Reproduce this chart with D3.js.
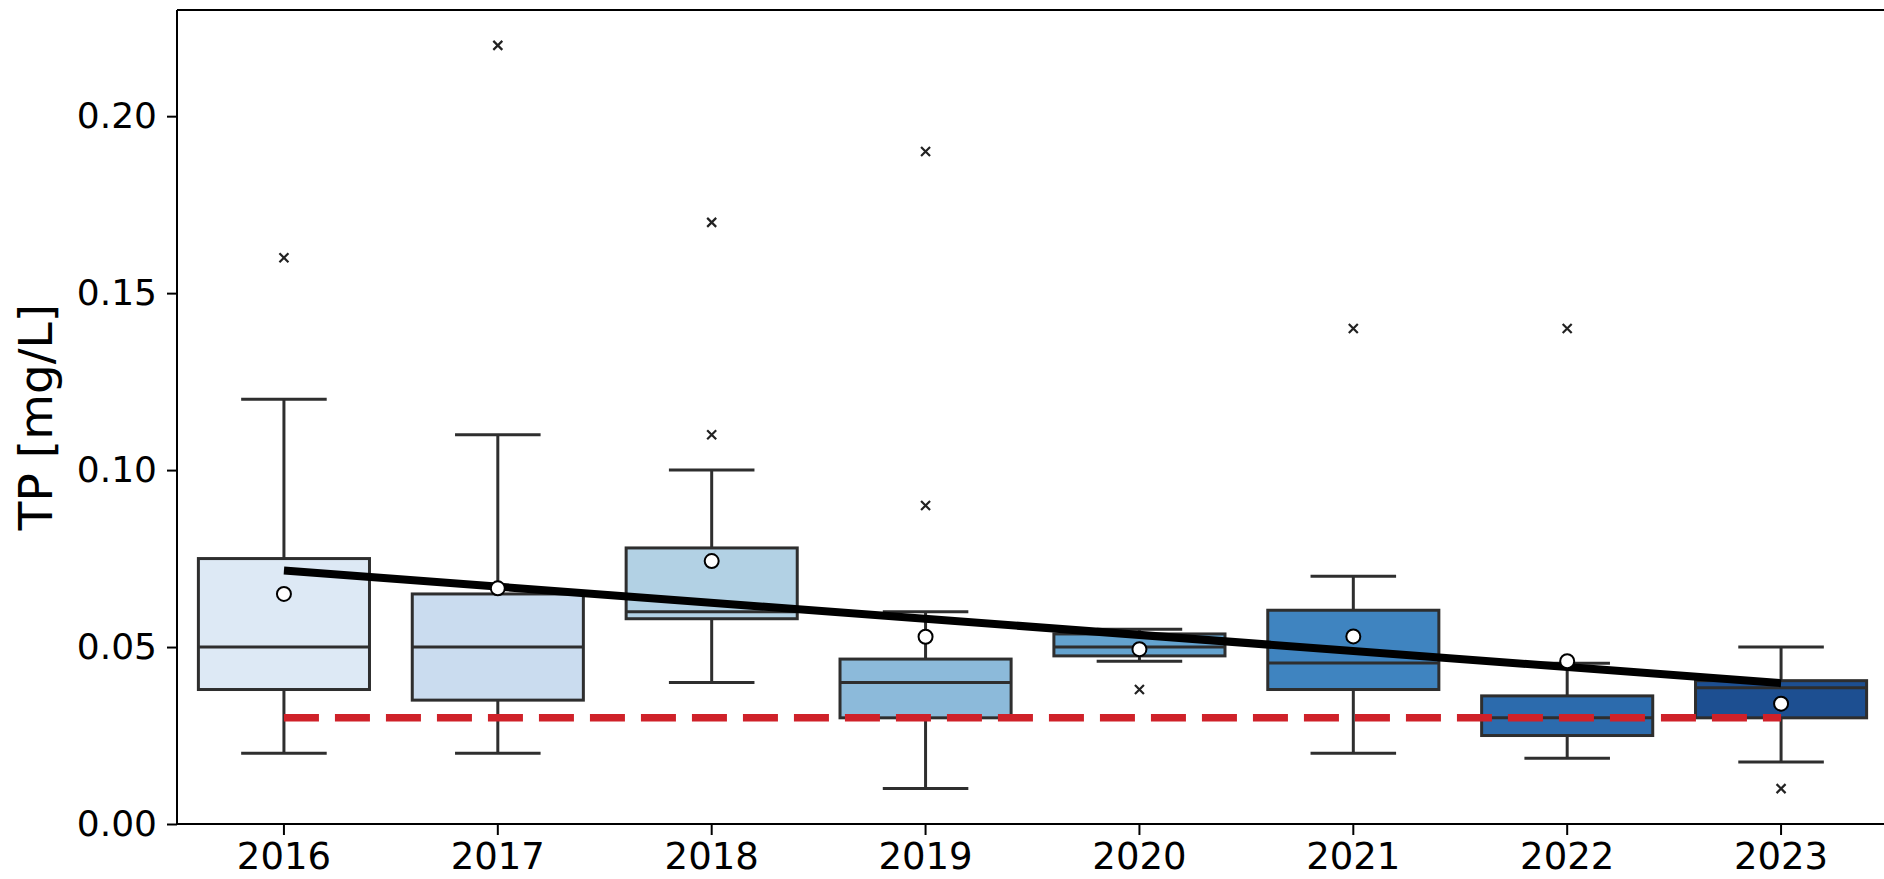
<!DOCTYPE html>
<html>
<head>
<meta charset="utf-8">
<script src="https://cdn.jsdelivr.net/npm/d3@7"></script>
<style>
  body { margin: 0; background: #fff; overflow: hidden; }
  text { font-family: "DejaVu Sans", sans-serif; fill: #000; }
</style>
</head>
<body>
<div id="chart"></div>
<script>
// chart values
var years   = ['2016', '2017', '2018', '2019', '2020', '2021', '2022', '2023'];
var q1      = [0.038, 0.035, 0.058, 0.030, 0.0475, 0.038, 0.025, 0.030];
var median  = [0.050, 0.050, 0.060, 0.040, 0.050, 0.0455, 0.030, 0.0385];
var q3      = [0.075, 0.065, 0.078, 0.0466, 0.0537, 0.0604, 0.0362, 0.0405];
var whiskLo = [0.020, 0.020, 0.040, 0.010, 0.046, 0.020, 0.0186, 0.0175];
var whiskHi = [0.120, 0.110, 0.100, 0.060, 0.055, 0.070, 0.0454, 0.050];
var means   = [0.065, 0.0666, 0.0743, 0.0529, 0.0494, 0.053, 0.046, 0.034];
var outliers = [[0.16], [0.22], [0.11, 0.17], [0.09, 0.19], [0.038], [0.14], [0.14], [0.01]];
var boxColors = ['#dde9f5', '#cadcef', '#b2d1e4', '#8cbada', '#64a3cf', '#3f84c0', '#2c6bad', '#1d4f91'];
var trendEnds = [0.0716, 0.0398];   // fitted trend at first and last year
var limitValue = 0.03;
var yTicks = [0.00, 0.05, 0.10, 0.15, 0.20];

var margin = {top: 10, right: 0, bottom: 55, left: 177},
    width = 1711,
    height = 879 - margin.top - margin.bottom;

var x = d3.scaleBand()
      .domain(years)
      .range([0, width])
      .padding(0);

var y = d3.scaleLinear()
      .domain([0, 0.23])
      .range([height, 0]);

function cx(yr) {
    return x(yr) + x.bandwidth() / 2;
}

var svg = d3.select("#chart").append("svg")
    .attr("width", 1884)
    .attr("height", 879)
  .append("g")
    .attr("transform", "translate(" + margin.left + "," + margin.top + ")");

var boxW = x.bandwidth() * 0.8;
var edge = '#2e2e2e';
var lw = 3;

var boxes = svg.selectAll(".box")
    .data(years)
    .enter().append("g")
      .attr("class", "box");

// whiskers
boxes.append("line")
    .attr("x1", function(d) { return cx(d); })
    .attr("x2", function(d) { return cx(d); })
    .attr("y1", function(d, i) { return y(whiskHi[i]); })
    .attr("y2", function(d, i) { return y(q3[i]); })
    .attr("stroke", edge).attr("stroke-width", lw);
boxes.append("line")
    .attr("x1", function(d) { return cx(d); })
    .attr("x2", function(d) { return cx(d); })
    .attr("y1", function(d, i) { return y(whiskLo[i]); })
    .attr("y2", function(d, i) { return y(q1[i]); })
    .attr("stroke", edge).attr("stroke-width", lw);
[whiskHi, whiskLo].forEach(function(arr) {
  boxes.append("line")
      .attr("x1", function(d) { return cx(d) - boxW / 4; })
      .attr("x2", function(d) { return cx(d) + boxW / 4; })
      .attr("y1", function(d, i) { return y(arr[i]); })
      .attr("y2", function(d, i) { return y(arr[i]); })
      .attr("stroke", edge).attr("stroke-width", lw);
});

boxes.append("rect")
    .attr("x", function(d) { return cx(d) - boxW / 2; })
    .attr("width", boxW)
    .attr("y", function(d, i) { return y(q3[i]); })
    .attr("height", function(d, i) { return y(q1[i]) - y(q3[i]); })
    .style("fill", function(d, i) { return boxColors[i]; })
    .attr("stroke", edge).attr("stroke-width", lw);

boxes.append("line")
    .attr("x1", function(d) { return cx(d) - boxW / 2; })
    .attr("x2", function(d) { return cx(d) + boxW / 2; })
    .attr("y1", function(d, i) { return y(median[i]); })
    .attr("y2", function(d, i) { return y(median[i]); })
    .attr("stroke", edge).attr("stroke-width", lw);

// outliers as small x marks
var outPts = [];
years.forEach(function(yr, i) {
  outliers[i].forEach(function(v) { outPts.push({year: yr, value: v}); });
});
svg.selectAll(".flier")
    .data(outPts)
    .enter().append("path")
      .attr("class", "flier")
      .attr("d", function(d) {
        var px = cx(d.year), py = y(d.value), s = 4.5;
        return "M" + (px - s) + "," + (py - s) + "L" + (px + s) + "," + (py + s) +
               "M" + (px - s) + "," + (py + s) + "L" + (px + s) + "," + (py - s);
      })
      .attr("stroke", "#222").attr("stroke-width", 2.2);

// red limit line
svg.append("line")
    .attr("x1", cx(years[0]))
    .attr("x2", cx(years[years.length - 1]))
    .attr("y1", y(limitValue))
    .attr("y2", y(limitValue))
    .attr("stroke", "#cf2129")
    .attr("stroke-width", 7.5)
    .attr("stroke-dasharray", "35,16");

// trend line
svg.append("line")
    .attr("x1", cx(years[0]))
    .attr("x2", cx(years[years.length - 1]))
    .attr("y1", y(trendEnds[0]))
    .attr("y2", y(trendEnds[1]))
    .attr("stroke", "#000")
    .attr("stroke-width", 8);

// mean markers
svg.selectAll(".mean")
    .data(years)
    .enter().append("circle")
      .attr("class", "mean")
      .attr("cx", function(d) { return cx(d); })
      .attr("cy", function(d, i) { return y(means[i]); })
      .attr("r", 7)
      .style("fill", "#fff")
      .attr("stroke", "#000").attr("stroke-width", 2);

// axes
var yAxis = svg.append("g")
    .call(d3.axisLeft(y).tickValues(yTicks).tickFormat(d3.format(".2f")).tickSize(10).tickPadding(10));
yAxis.selectAll("text").style("font-size", "36px");

var xAxis = svg.append("g")
    .attr("transform", "translate(0," + height + ")")
    .call(d3.axisBottom(x).tickSize(11).tickPadding(8));
xAxis.selectAll("text").style("font-size", "37px");

[yAxis, xAxis].forEach(function(g) {
  g.select(".domain").remove();
  g.selectAll("line").attr("stroke", "#000").attr("stroke-width", 2);
});

// spines
svg.append("line").attr("x1", 0).attr("x2", 0).attr("y1", 0).attr("y2", height)
    .attr("stroke", "#000").attr("stroke-width", 2);
svg.append("line").attr("x1", 0).attr("x2", width).attr("y1", 0).attr("y2", 0)
    .attr("stroke", "#000").attr("stroke-width", 2);
svg.append("line").attr("x1", 0).attr("x2", width).attr("y1", height).attr("y2", height)
    .attr("stroke", "#000").attr("stroke-width", 2);

svg.append("text")
    .attr("transform", "translate(" + (52 - margin.left) + "," + (height / 2) + ") rotate(-90)")
    .attr("text-anchor", "middle")
    .style("font-size", "47px")
    .text("TP [mg/L]");
</script>
</body>
</html>
